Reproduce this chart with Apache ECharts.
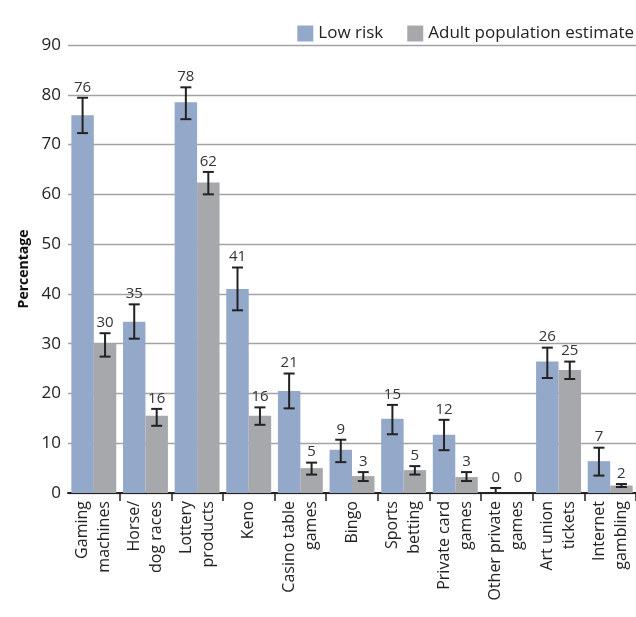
<!DOCTYPE html>
<html>
<head>
<meta charset="utf-8">
<script src="https://cdn.jsdelivr.net/npm/echarts@6/dist/echarts.min.js"></script>
<style>
html,body{margin:0;padding:0;background:#fff;}
#chart{width:636px;height:617px;}
</style>
</head>
<body>
<div id="chart"></div>
<script>
var categories = ['Gaming\nmachines', 'Horse/\ndog races', 'Lottery\nproducts', 'Keno', 'Casino table\ngames', 'Bingo', 'Sports\nbetting', 'Private card\ngames', 'Other private\ngames', 'Art union\ntickets', 'Internet\ngambling'];
var seriesNames = ['Low risk', 'Adult population estimate'];
var lowRisk = [75.9, 34.4, 78.5, 41.0, 20.5, 8.7, 14.9, 11.7, 0, 26.4, 6.4];
var lowRiskErrLow = [72.3, 31.0, 75.1, 36.7, 17.0, 6.2, 11.8, 8.6, 0, 23.1, 3.5];
var lowRiskErrHigh = [79.4, 37.9, 81.5, 45.3, 24.0, 10.7, 17.7, 14.7, 1.0, 29.2, 9.1];
var lowRiskLabels = [76, 35, 78, 41, 21, 9, 15, 12, 0, 26, 7];
var adult = [30.0, 15.5, 62.4, 15.5, 5.0, 3.4, 4.6, 3.2, 0, 24.7, 1.5];
var adultErrLow = [27.4, 13.5, 60.0, 13.7, 3.7, 2.4, 3.7, 2.4, 0, 22.9, 1.2];
var adultErrHigh = [32.1, 16.9, 64.5, 17.2, 6.1, 4.2, 5.4, 4.2, 0, 26.4, 1.8];
var adultLabels = [30, 16, 62, 16, 5, 3, 5, 3, 0, 25, 2];
var yTicks = [0, 10, 20, 30, 40, 50, 60, 70, 80, 90];

var FONT = 'Open Sans';
var BLUE = '#94A9C9';
var GREY = '#A7A8AB';
var CAT_GAP = 0.13;

function errData(highs, lows, labels) {
  return highs.map(function (h, i) { return [i, h, lows[i], labels[i]]; });
}

function makeRender(side) {
  return function (params, api) {
    var i = api.value(0);
    var hi = api.value(1), lo = api.value(2), lab = api.value(3);
    var band = api.size([1, 0])[0];
    var bw = band * (1 - CAT_GAP) / 2;
    var x = api.coord([i, 0])[0] + side * bw / 2;
    var yHi = api.coord([i, hi])[1];
    var yLo = api.coord([i, lo])[1];
    var yLab = api.coord([i, Math.max(hi, 1)])[1];
    var cap = 5.5;
    var children = [];
    var st = { stroke: '#222', lineWidth: 2 };
    if (hi > lo) {
      children.push({ type: 'line', shape: { x1: x, y1: yHi, x2: x, y2: yLo }, style: st });
      children.push({ type: 'line', shape: { x1: x - cap, y1: yHi, x2: x + cap, y2: yHi }, style: st });
      children.push({ type: 'line', shape: { x1: x - cap, y1: yLo, x2: x + cap, y2: yLo }, style: st });
    }
    children.push({
      type: 'text',
      style: { text: String(lab), x: x, y: yLab - 3, align: 'center', verticalAlign: 'bottom',
        fill: '#333', font: '15px "' + FONT + '"' }
    });
    return { type: 'group', children: children };
  };
}

var chart = echarts.init(document.getElementById('chart'), null, { renderer: 'canvas' });
chart.setOption({
  animation: false,
  textStyle: { fontFamily: FONT },
  legend: {
    data: seriesNames,
    right: -3, top: 20,
    itemWidth: 16, itemHeight: 16, itemGap: 24,
    icon: 'rect',
    textStyle: { fontSize: 17, color: '#222', fontFamily: FONT }
  },
  grid: { left: 68, right: 0, top: 45, bottom: 124, containLabel: false },
  xAxis: {
    type: 'category',
    data: categories,
    axisLine: { lineStyle: { color: '#222', width: 2 } },
    axisTick: { show: true, length: 8, lineStyle: { color: '#222', width: 1.5 },
      interval: function (idx) { return idx > 0; } },
    axisLabel: { rotate: 90, interval: 0, fontSize: 16, color: '#222', margin: 8, lineHeight: 22, fontFamily: FONT }
  },
  yAxis: {
    type: 'value',
    min: yTicks[0], max: yTicks[yTicks.length - 1], interval: 10,
    name: 'Percentage',
    nameLocation: 'middle',
    nameGap: 34,
    nameTextStyle: { fontSize: 14, fontWeight: 'bold', color: '#111', fontFamily: FONT },
    axisLine: { show: false },
    axisTick: { show: false },
    splitLine: { lineStyle: { color: '#a3a3a3', width: 1.3 } },
    axisLabel: { fontSize: 17, color: '#222', margin: 7, fontFamily: FONT }
  },
  series: [
    { name: seriesNames[0], type: 'bar', data: lowRisk, barGap: 0, barCategoryGap: (CAT_GAP * 100) + '%', itemStyle: { color: BLUE } },
    { name: seriesNames[1], type: 'bar', data: adult, barGap: 0, barCategoryGap: (CAT_GAP * 100) + '%', itemStyle: { color: GREY } },
    { type: 'custom', renderItem: makeRender(-1), data: errData(lowRiskErrHigh, lowRiskErrLow, lowRiskLabels), encode: { x: 0, y: 1 }, z: 10 },
    { type: 'custom', renderItem: makeRender(1), data: errData(adultErrHigh, adultErrLow, adultLabels), encode: { x: 0, y: 1 }, z: 10 }
  ]
});
</script>
</body>
</html>
